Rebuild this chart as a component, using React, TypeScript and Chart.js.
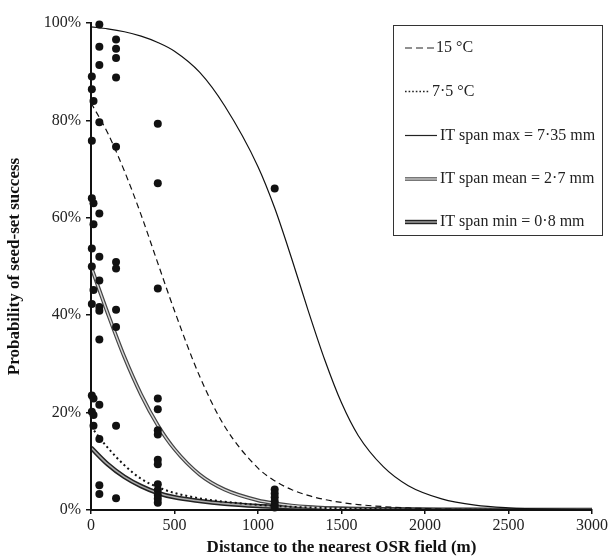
import React, { useEffect, useRef } from "react";
import { Chart, registerables } from "chart.js";

Chart.register(...registerables);

// ---- Data ----
const xTickValues = [0, 500, 1000, 1500, 2000, 2500, 3000];
const yTickValues = [0, 20, 40, 60, 80, 100];

const xAxisTitle = "Distance to the nearest OSR field (m)";
const yAxisTitle = "Probability of seed-set success";

const legendLabels = [
  "15 °C",
  "7·5 °C",
  "IT span max = 7·35 mm",
  "IT span mean = 2·7 mm",
  "IT span min = 0·8 mm",
];

// sample x positions for fitted curves (m)
const curveX = [0, 100, 200, 300, 400, 500, 650, 800, 1000, 1100, 1200, 1300, 1400, 1500, 1600, 1750, 1900, 2100, 2300, 2500, 2750, 3000];

// top solid curve (%)
const curveMax = [99.2, 98.8, 98.2, 97.3, 96.0, 94.2, 89.9, 83.0, 70.5, 62.0, 51.8, 41.0, 30.8, 22.0, 15.3, 8.9, 5.0, 2.3, 1.0, 0.45, 0.16, 0.06];
// dashed curve (%)
const curveDashed = [83.6, 77.4, 69.6, 60.6, 50.7, 40.9, 27.5, 17.2, 8.6, 6.0, 4.2, 3.0, 2.15, 1.55, 1.12, 0.7, 0.42, 0.2, 0.1, 0.05, 0.02, 0.01];
// upper double curve (%)
const curveMean = [50, 40.4, 31.4, 23.7, 17.4, 12.5, 7.3, 4.2, 1.98, 1.35, 0.92, 0.62, 0.42, 0.29, 0.19, 0.11, 0.06, 0.03, 0.01, 0, 0, 0];
// dotted curve (%)
const curveDotted = [17.1, 12.8, 9.2, 6.4, 4.7, 3.5, 2.4, 1.7, 1.05, 0.84, 0.66, 0.52, 0.41, 0.32, 0.25, 0.17, 0.11, 0.06, 0.035, 0.02, 0.01, 0];
// lower double curve (%)
const curveMin = [12.8, 9.4, 6.8, 4.9, 3.5, 2.6, 1.85, 1.3, 0.82, 0.65, 0.51, 0.4, 0.31, 0.24, 0.18, 0.12, 0.08, 0.045, 0.025, 0.013, 0.006, 0];

// observed seed-set success
const obsX = [
  5, 5, 5, 5, 5, 5, 5, 5, 5,
  15, 15, 15, 15, 15, 15, 15,
  50, 50, 50, 50, 50, 50, 50, 50, 50, 50, 50, 50, 50, 50,
  150, 150, 150, 150, 150, 150, 150, 150, 150, 150, 150,
  400, 400, 400, 400, 400, 400, 400, 400, 400, 400, 400, 400, 400, 400,
  1100, 1100, 1100, 1100, 1100, 1100, 1100,
];
const obsY = [
  89.0, 86.4, 75.8, 64.0, 53.7, 50.0, 42.3, 23.5, 20.2,
  84.0, 63.0, 58.7, 45.2, 22.9, 19.5, 17.3,
  99.7, 95.1, 91.4, 79.6, 60.9, 52.0, 47.1, 41.7, 40.9, 35.0, 21.6, 14.6, 5.1, 3.3,
  96.6, 94.7, 92.8, 88.8, 74.6, 50.9, 49.6, 41.1, 37.6, 17.3, 2.4,
  79.3, 67.1, 45.5, 22.9, 20.7, 16.4, 15.5, 10.3, 9.4, 5.3, 4.1, 3.1, 2.3, 1.5,
  66.0, 4.2, 3.4, 2.6, 1.8, 1.1, 0.5,
];

const toPts = (xs: number[], ys: number[]) => xs.map((x, i) => ({ x, y: ys[i] }));

const SERIF = '"Liberation Serif", "Times New Roman", serif';

const legendPlugin = {
  id: "boxLegend",
  afterDraw(chart: any) {
    const ctx: CanvasRenderingContext2D = chart.ctx;
    const area = chart.chartArea;
    const boxRight = area.right + 10;
    const boxLeft = boxRight - 209;
    const boxTop = area.top + 2;
    const boxH = 210;
    ctx.save();
    ctx.fillStyle = "#fff";
    ctx.fillRect(boxLeft, boxTop, 209, boxH);
    ctx.strokeStyle = "#333";
    ctx.lineWidth = 1;
    ctx.strokeRect(Math.round(boxLeft) + 0.5, Math.round(boxTop) + 0.5, 209, boxH);

    const x0 = boxLeft + 12;
    const rows = [23, 66.5, 110.5, 154, 197];
    ctx.font = `16px ${SERIF}`;
    ctx.textBaseline = "middle";
    ctx.fillStyle = "#222";
    rows.forEach((dy, i) => {
      const y = boxTop + dy;
      ctx.save();
      ctx.lineCap = "butt";
      let textX = x0 + 35;
      if (i === 0) {
        ctx.strokeStyle = "#222";
        ctx.lineWidth = 1.2;
        ctx.setLineDash([7, 4]);
        ctx.beginPath();
        ctx.moveTo(x0, y);
        ctx.lineTo(x0 + 29, y);
        ctx.stroke();
        textX = x0 + 31;
      } else if (i === 1) {
        ctx.strokeStyle = "#222";
        ctx.lineWidth = 1.6;
        ctx.setLineDash([1.6, 2]);
        ctx.beginPath();
        ctx.moveTo(x0, y);
        ctx.lineTo(x0 + 25, y);
        ctx.stroke();
        textX = x0 + 27;
      } else if (i === 2) {
        ctx.strokeStyle = "#222";
        ctx.lineWidth = 1.2;
        ctx.beginPath();
        ctx.moveTo(x0, y);
        ctx.lineTo(x0 + 32, y);
        ctx.stroke();
      } else if (i === 3) {
        ctx.strokeStyle = "#555";
        ctx.lineWidth = 3.6;
        ctx.beginPath();
        ctx.moveTo(x0, y);
        ctx.lineTo(x0 + 32, y);
        ctx.stroke();
        ctx.strokeStyle = "#d0d0d0";
        ctx.lineWidth = 1.4;
        ctx.beginPath();
        ctx.moveTo(x0, y);
        ctx.lineTo(x0 + 32, y);
        ctx.stroke();
      } else {
        ctx.strokeStyle = "#222";
        ctx.lineWidth = 4.4;
        ctx.beginPath();
        ctx.moveTo(x0, y);
        ctx.lineTo(x0 + 32, y);
        ctx.stroke();
        ctx.strokeStyle = "#999";
        ctx.lineWidth = 1.6;
        ctx.beginPath();
        ctx.moveTo(x0, y);
        ctx.lineTo(x0 + 32, y);
        ctx.stroke();
      }
      ctx.restore();
      ctx.fillText(legendLabels[i], textX, y);
    });
    ctx.restore();
  },
};

export default function App() {
  const ref = useRef<HTMLCanvasElement>(null);

  useEffect(() => {
    if (!ref.current) return;
    const lineBase = {
      type: "scatter" as const,
      showLine: true,
      pointRadius: 0,
      pointHoverRadius: 0,
      cubicInterpolationMode: "monotone" as const,
      fill: false,
    };
    const chart = new Chart(ref.current, {
      type: "scatter",
      data: {
        datasets: [
          {
            label: "observed",
            data: toPts(obsX, obsY),
            pointRadius: 4,
            pointHoverRadius: 4,
            backgroundColor: "#111",
            borderColor: "#111",
            borderWidth: 0,
            showLine: false,
            clip: false,
          } as any,
          { ...lineBase, label: "max", data: toPts(curveX, curveMax), borderColor: "#111", borderWidth: 1.2 },
          { ...lineBase, label: "dashed", data: toPts(curveX, curveDashed), borderColor: "#111", borderWidth: 1.2, borderDash: [6, 4] },
          { ...lineBase, label: "dotted", data: toPts(curveX, curveDotted), borderColor: "#111", borderWidth: 2, borderDash: [2, 3] },
          { ...lineBase, label: "mean-in", data: toPts(curveX, curveMean), borderColor: "#d8d8d8", borderWidth: 1.4 },
          { ...lineBase, label: "mean-out", data: toPts(curveX, curveMean), borderColor: "#444", borderWidth: 3.8 },
          { ...lineBase, label: "min-in", data: toPts(curveX, curveMin), borderColor: "#aaa", borderWidth: 1.6 },
          { ...lineBase, label: "min-out", data: toPts(curveX, curveMin), borderColor: "#222", borderWidth: 4.6 },
        ] as any,
      },
      options: {
        responsive: false,
        maintainAspectRatio: false,
        devicePixelRatio: 1,
        animation: false,
        events: [],
        layout: { padding: { left: 0, top: 23, right: 21, bottom: 0 } },
        plugins: {
          legend: { display: false },
          tooltip: { enabled: false },
        },
        scales: {
          x: {
            type: "linear",
            min: 0,
            max: 3000,
            afterFit: (s: any) => {
              s.height = 50;
            },
            afterBuildTicks: (s: any) => {
              s.ticks = xTickValues.map((v) => ({ value: v }));
            },
            ticks: {
              autoSkip: false,
              maxRotation: 0,
              padding: 2,
              color: "#222",
              font: { family: SERIF, size: 16 },
              callback: (v: any) => String(v),
            },
            grid: { drawOnChartArea: false, drawTicks: true, tickLength: 4, color: "#111", lineWidth: 1.5 },
            border: { display: true, color: "#111", width: 2, z: 1 },
            title: {
              display: true,
              text: xAxisTitle,
              color: "#111",
              font: { family: SERIF, size: 17, weight: "bold" },
              padding: { top: 0, bottom: 2 },
            },
          },
          y: {
            type: "linear",
            min: 0,
            max: 100,
            afterFit: (s: any) => {
              s.width = 91;
            },
            afterBuildTicks: (s: any) => {
              s.ticks = yTickValues.map((v) => ({ value: v }));
            },
            ticks: {
              autoSkip: false,
              padding: 5,
              color: "#222",
              font: { family: SERIF, size: 16 },
              callback: (v: any) => `${v}%`,
            },
            grid: { drawOnChartArea: false, drawTicks: true, tickLength: 5, color: "#111", lineWidth: 1.5 },
            border: { display: true, color: "#111", width: 2, z: 1 },
            title: {
              display: true,
              text: yAxisTitle,
              color: "#111",
              font: { family: SERIF, size: 17, weight: "bold" },
              padding: { top: 4, bottom: 0 },
            },
          },
        },
      } as any,
      plugins: [legendPlugin],
    });
    return () => chart.destroy();
  }, []);

  return (
    <div style={{ position: "absolute", left: 0, top: 0, width: 613, height: 560, background: "#fff" }}>
      <canvas ref={ref} width={613} height={560} style={{ display: "block", width: 613, height: 560 }} />
    </div>
  );
}
